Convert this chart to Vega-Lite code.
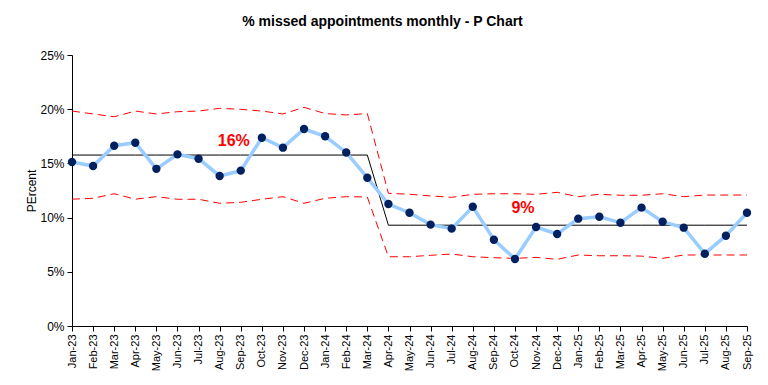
{
  "$schema": "https://vega.github.io/schema/vega-lite/v6.json",
  "autosize": {"type": "none"},
  "width": 675,
  "height": 271,
  "padding": {"left": 72, "top": 55, "right": 21, "bottom": 59},
  "background": "white",
  "config": {
    "font": "Liberation Sans",
    "view": {"stroke": null},
    "axis": {"grid": false, "domainColor": "#000000", "tickColor": "#000000", "labelColor": "#000000", "titleColor": "#000000", "labelFont": "Liberation Sans", "titleFont": "Liberation Sans"}
  },
  "title": {"text": "% missed appointments monthly - P Chart", "fontSize": 14, "fontWeight": "bold", "font": "Liberation Sans", "color": "#000000", "dx": -27, "offset": 20},
  "datasets": {
    "main": [
      {"month": "Jan-23", "pct": 15.13, "cl": 15.77, "ucl": 19.83, "lcl": 11.70},
      {"month": "Feb-23", "pct": 14.76, "cl": 15.77, "ucl": 19.56, "lcl": 11.78},
      {"month": "Mar-23", "pct": 16.63, "cl": 15.77, "ucl": 19.30, "lcl": 12.20},
      {"month": "Apr-23", "pct": 16.91, "cl": 15.77, "ucl": 19.83, "lcl": 11.70},
      {"month": "May-23", "pct": 14.50, "cl": 15.77, "ucl": 19.56, "lcl": 11.93},
      {"month": "Jun-23", "pct": 15.83, "cl": 15.77, "ucl": 19.77, "lcl": 11.69},
      {"month": "Jul-23", "pct": 15.43, "cl": 15.77, "ucl": 19.83, "lcl": 11.69},
      {"month": "Aug-23", "pct": 13.84, "cl": 15.77, "ucl": 20.08, "lcl": 11.32},
      {"month": "Sep-23", "pct": 14.33, "cl": 15.77, "ucl": 19.99, "lcl": 11.41},
      {"month": "Oct-23", "pct": 17.37, "cl": 15.77, "ucl": 19.83, "lcl": 11.69},
      {"month": "Nov-23", "pct": 16.45, "cl": 15.77, "ucl": 19.56, "lcl": 11.93},
      {"month": "Dec-23", "pct": 18.17, "cl": 15.77, "ucl": 20.17, "lcl": 11.32},
      {"month": "Jan-24", "pct": 17.50, "cl": 15.77, "ucl": 19.60, "lcl": 11.78},
      {"month": "Feb-24", "pct": 16.01, "cl": 15.77, "ucl": 19.47, "lcl": 11.93},
      {"month": "Mar-24", "pct": 13.68, "cl": 15.77, "ucl": 19.60, "lcl": 11.90},
      {"month": "Apr-24", "pct": 11.25, "cl": 9.30, "ucl": 12.24, "lcl": 6.39},
      {"month": "May-24", "pct": 10.45, "cl": 9.30, "ucl": 12.15, "lcl": 6.39},
      {"month": "Jun-24", "pct": 9.35, "cl": 9.30, "ucl": 12.00, "lcl": 6.52},
      {"month": "Jul-24", "pct": 8.98, "cl": 9.30, "ucl": 11.87, "lcl": 6.64},
      {"month": "Aug-24", "pct": 11.00, "cl": 9.30, "ucl": 12.15, "lcl": 6.39},
      {"month": "Sep-24", "pct": 7.96, "cl": 9.30, "ucl": 12.20, "lcl": 6.30},
      {"month": "Oct-24", "pct": 6.18, "cl": 9.30, "ucl": 12.20, "lcl": 6.24},
      {"month": "Nov-24", "pct": 9.13, "cl": 9.30, "ucl": 12.15, "lcl": 6.33},
      {"month": "Dec-24", "pct": 8.49, "cl": 9.30, "ucl": 12.33, "lcl": 6.15},
      {"month": "Jan-25", "pct": 9.90, "cl": 9.30, "ucl": 11.93, "lcl": 6.55},
      {"month": "Feb-25", "pct": 10.08, "cl": 9.30, "ucl": 12.15, "lcl": 6.48},
      {"month": "Mar-25", "pct": 9.53, "cl": 9.30, "ucl": 12.06, "lcl": 6.48},
      {"month": "Apr-25", "pct": 10.92, "cl": 9.30, "ucl": 12.06, "lcl": 6.45},
      {"month": "May-25", "pct": 9.62, "cl": 9.30, "ucl": 12.20, "lcl": 6.24},
      {"month": "Jun-25", "pct": 9.07, "cl": 9.30, "ucl": 11.93, "lcl": 6.55},
      {"month": "Jul-25", "pct": 6.67, "cl": 9.30, "ucl": 12.08, "lcl": 6.55},
      {"month": "Aug-25", "pct": 8.33, "cl": 9.30, "ucl": 12.08, "lcl": 6.55},
      {"month": "Sep-25", "pct": 10.45, "cl": 9.30, "ucl": 12.08, "lcl": 6.55}
    ],
    "labels": [
      {"month": "Sep-23", "y": 17.07, "label": "16%"},
      {"month": "Oct-24", "y": 10.84, "label": "9%"}
    ]
  },
  "data": {"name": "main"},
  "encoding": {
    "x": {
      "field": "month", "type": "ordinal",
      "scale": {"type": "point", "padding": 0, "domain": ["Jan-23","Feb-23","Mar-23","Apr-23","May-23","Jun-23","Jul-23","Aug-23","Sep-23","Oct-23","Nov-23","Dec-23","Jan-24","Feb-24","Mar-24","Apr-24","May-24","Jun-24","Jul-24","Aug-24","Sep-24","Oct-24","Nov-24","Dec-24","Jan-25","Feb-25","Mar-25","Apr-25","May-25","Jun-25","Jul-25","Aug-25","Sep-25"]},
      "axis": {"title": null, "labelAngle": -90, "labelFontSize": 11, "tickSize": 5, "labelPadding": 3, "domainWidth": 1}
    }
  },
  "layer": [
    {
      "mark": {"type": "line", "color": "#FF0000", "strokeWidth": 1, "strokeDash": [8, 5]},
      "encoding": {"y": {"field": "ucl", "type": "quantitative", "scale": {"domain": [0, 25], "nice": false, "zero": true}, "axis": {"title": "PErcent", "titleFontSize": 12, "titleFontWeight": "normal", "titlePadding": 1, "values": [0, 5, 10, 15, 20, 25], "labelExpr": "datum.value + '%'", "labelFontSize": 12, "tickSize": 5, "labelPadding": 3}}}
    },
    {
      "mark": {"type": "line", "color": "#FF0000", "strokeWidth": 1, "strokeDash": [8, 5]},
      "encoding": {"y": {"field": "lcl", "type": "quantitative"}}
    },
    {
      "mark": {"type": "line", "color": "#000000", "strokeWidth": 1},
      "encoding": {"y": {"field": "cl", "type": "quantitative"}}
    },
    {
      "mark": {"type": "line", "color": "#99CCFF", "strokeWidth": 3.5},
      "encoding": {"y": {"field": "pct", "type": "quantitative"}}
    },
    {
      "mark": {"type": "point", "filled": true, "color": "#002060", "size": 70, "opacity": 1},
      "encoding": {"y": {"field": "pct", "type": "quantitative"}}
    },
    {
      "data": {"name": "labels"},
      "transform": [{"filter": "datum.label == '16%'"}],
      "mark": {"type": "text", "color": "#FF0000", "fontSize": 16, "fontWeight": "bold", "baseline": "middle", "align": "center", "dx": -7},
      "encoding": {
        "y": {"field": "y", "type": "quantitative"},
        "text": {"field": "label"}
      }
    },
    {
      "data": {"name": "labels"},
      "transform": [{"filter": "datum.label == '9%'"}],
      "mark": {"type": "text", "color": "#FF0000", "fontSize": 16, "fontWeight": "bold", "baseline": "middle", "align": "center", "dx": 8},
      "encoding": {
        "y": {"field": "y", "type": "quantitative"},
        "text": {"field": "label"}
      }
    }
  ]
}
